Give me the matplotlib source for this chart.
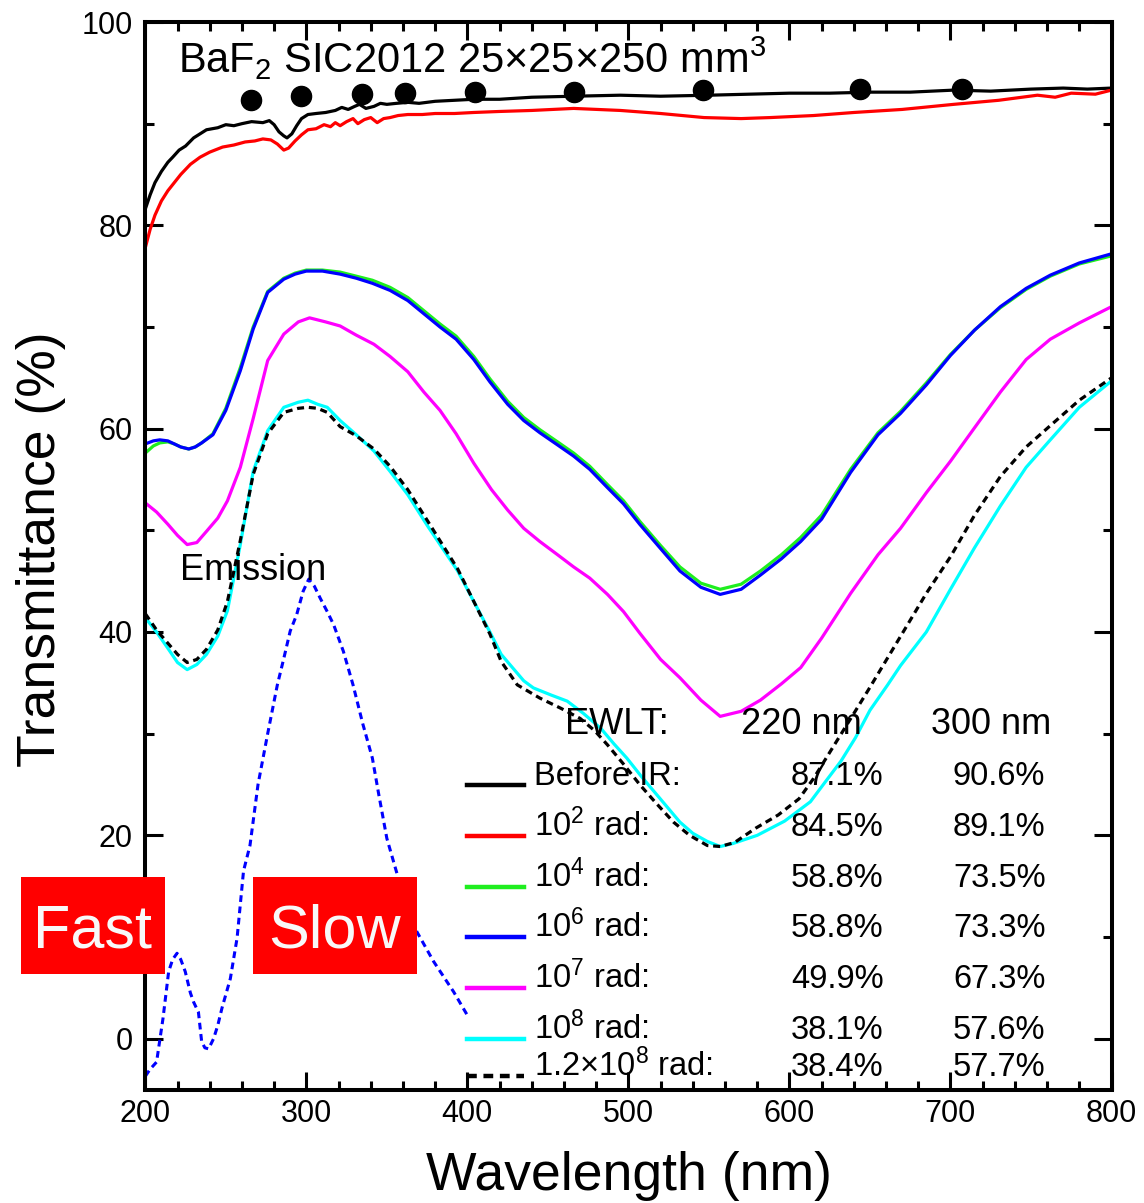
import matplotlib
matplotlib.use("Agg")
import matplotlib.pyplot as plt
from matplotlib.lines import Line2D
from matplotlib.patches import Rectangle
from matplotlib.ticker import MultipleLocator

plt.rcParams['font.family'] = ['Liberation Sans', 'DejaVu Sans']
plt.rcParams['mathtext.fontset'] = 'custom'
plt.rcParams['mathtext.rm'] = 'Liberation Sans'
plt.rcParams['mathtext.it'] = 'Liberation Sans:italic'

# ---- data ----
wl_before = [200, 203, 206, 210, 214, 217, 221, 225, 230, 238, 245, 250, 255, 260, 266, 273, 277, 280,
             283, 286, 288, 291, 294, 297, 301, 306, 312, 318, 322, 326, 330, 333, 337, 342, 346, 350,
             356, 363, 370, 380, 392, 404, 420, 440, 466, 495, 520, 550, 575, 600, 625, 650, 675, 702,
             725, 750, 770, 785, 800]
t_before = [81.6, 83.0, 84.2, 85.3, 86.2, 86.7, 87.4, 87.8, 88.6, 89.4, 89.6, 89.9, 89.8, 90.0, 90.2,
            90.1, 90.3, 89.9, 89.2, 88.8, 88.6, 89.0, 89.8, 90.5, 90.9, 91.0, 91.1, 91.3, 91.6, 91.4,
            91.7, 91.9, 91.5, 91.7, 92.0, 91.9, 92.0, 92.1, 92.0, 92.2, 92.3, 92.4, 92.4, 92.6, 92.7,
            92.8, 92.7, 92.8, 92.9, 93.0, 93.0, 93.1, 93.1, 93.3, 93.2, 93.4, 93.5, 93.4, 93.5]

wl_1e2 = [200, 203, 206, 210, 214, 217, 222, 228, 234, 240, 248, 255, 262, 268, 273, 278, 282, 286,
          289, 293, 297, 301, 306, 311, 315, 318, 321, 325, 329, 332, 336, 340, 344, 348, 352, 357,
          363, 372, 380, 392, 404, 420, 440, 466, 495, 520, 547, 570, 588, 615, 640, 670, 702, 730,
          754, 765, 775, 790, 800]
t_1e2 = [77.8, 79.6, 81.0, 82.4, 83.4, 84.0, 85.0, 86.0, 86.7, 87.2, 87.7, 87.9, 88.2, 88.3, 88.5,
         88.4, 88.0, 87.4, 87.6, 88.3, 88.9, 89.4, 89.5, 89.9, 89.7, 90.1, 89.8, 90.2, 90.5, 90.0,
         90.4, 90.6, 90.1, 90.5, 90.6, 90.8, 90.9, 90.9, 91.0, 91.0, 91.1, 91.2, 91.3, 91.5, 91.3,
         91.0, 90.6, 90.5, 90.6, 90.8, 91.1, 91.4, 91.9, 92.3, 92.8, 92.6, 93.0, 92.9, 93.3]

wl_mid = [200, 205, 209, 214, 218, 222, 227, 231, 235, 242, 250, 259, 267, 276, 286, 293, 300, 310,
          321, 331, 341, 352, 363, 373, 383, 393, 404, 414, 425, 435, 445, 456, 466, 476, 487, 497,
          507, 520, 532, 545, 557, 570, 582, 595, 607, 620, 638, 655, 669, 685, 700, 715, 731, 747,
          762, 780, 800]
t_1e6 = [58.5, 58.8, 58.9, 58.8, 58.5, 58.2, 58.0, 58.2, 58.6, 59.4, 61.8, 65.7, 69.8, 73.4, 74.7,
         75.2, 75.5, 75.5, 75.2, 74.8, 74.3, 73.6, 72.6, 71.3, 70.0, 68.8, 66.8, 64.6, 62.4, 60.8,
         59.6, 58.4, 57.3, 56.0, 54.2, 52.6, 50.6, 48.2, 46.0, 44.4, 43.7, 44.2, 45.6, 47.2, 48.9,
         51.1, 55.7, 59.4, 61.5, 64.3, 67.2, 69.7, 72.0, 73.8, 75.1, 76.3, 77.2]
t_1e4 = [57.6, 58.3, 58.6, 58.7, 58.5, 58.2, 58.0, 58.2, 58.6, 59.5, 62.0, 66.0, 70.0, 73.5, 74.8,
         75.3, 75.6, 75.6, 75.4, 75.0, 74.6, 73.9, 72.9, 71.6, 70.3, 69.1, 67.1, 64.9, 62.7, 61.1,
         59.9, 58.7, 57.6, 56.3, 54.5, 52.9, 50.9, 48.5, 46.4, 44.8, 44.2, 44.7, 46.0, 47.6, 49.3,
         51.5, 56.0, 59.6, 61.7, 64.5, 67.3, 69.7, 71.9, 73.7, 75.0, 76.2, 77.0]

wl_1e7 = [200, 207, 214, 220, 226, 232, 238, 245, 251, 259, 267, 276, 286, 295, 302, 312, 321, 331,
          342, 352, 363, 373, 383, 393, 404, 415, 425, 435, 445, 456, 466, 476, 487, 497, 507, 520,
          532, 545, 557, 570, 582, 595, 607, 620, 638, 655, 669, 685, 700, 715, 731, 747, 762, 780, 800]
t_1e7 = [52.7, 51.8, 50.6, 49.5, 48.6, 48.8, 49.9, 51.2, 52.9, 56.2, 61.0, 66.7, 69.3, 70.5, 70.9,
         70.5, 70.1, 69.2, 68.3, 67.1, 65.6, 63.6, 61.8, 59.5, 56.6, 54.0, 52.0, 50.2, 48.9, 47.6,
         46.4, 45.3, 43.7, 42.0, 39.9, 37.3, 35.5, 33.3, 31.7, 32.2, 33.3, 34.9, 36.5, 39.4, 43.8,
         47.6, 50.2, 53.7, 56.8, 60.1, 63.6, 66.8, 68.8, 70.4, 72.0]

wl_1e8 = [200, 207, 214, 220, 226, 232, 238, 245, 251, 259, 267, 276, 286, 295, 301, 307, 313, 321,
          331, 342, 352, 363, 375, 394, 414, 421, 435, 441, 452, 462, 472, 483, 491, 499, 508, 516,
          524, 532, 540, 549, 557, 565, 580, 597, 613, 622, 632, 641, 650, 661, 669, 685, 700, 715,
          731, 747, 762, 780, 800]
t_1e8 = [41.4, 40.0, 38.4, 37.0, 36.3, 36.8, 37.8, 39.6, 42.1, 48.6, 55.8, 59.8, 62.1, 62.6, 62.8,
         62.4, 62.1, 60.8, 59.4, 57.8, 55.8, 53.5, 50.5, 46.0, 40.0, 37.8, 35.2, 34.5, 33.8, 33.2,
         32.0, 30.5, 29.0, 27.6, 25.8, 24.3, 22.8, 21.3, 20.2, 19.4, 18.9, 19.2, 20.0, 21.4, 23.3,
         25.2, 27.3, 29.6, 32.3, 34.8, 36.7, 40.0, 44.2, 48.3, 52.4, 56.2, 58.9, 62.1, 64.7]

wl_12e8 = [200, 207, 214, 220, 226, 232, 238, 245, 251, 259, 267, 276, 286, 295, 301, 307, 313, 321,
           331, 342, 352, 363, 375, 394, 414, 421, 431, 445, 458, 470, 479, 487, 497, 507, 517, 528,
           538, 549, 557, 566, 579, 593, 606, 615, 624, 633, 642, 649, 660, 671, 685, 700, 715, 731,
           747, 762, 780, 800]
t_12e8 = [41.8, 40.2, 38.9, 37.8, 37.0, 37.3, 38.3, 40.2, 43.0, 49.0, 55.5, 59.5, 61.6, 62.0, 62.1,
          62.0, 61.6, 60.2, 59.3, 58.0, 56.3, 54.0, 51.0, 46.2, 39.8, 37.1, 34.8, 33.5, 32.5, 31.5,
          30.3, 28.9, 27.0, 25.0, 23.2, 21.3, 20.0, 19.0, 18.9, 19.3, 20.7, 22.0, 23.6, 25.6, 27.9,
          30.2, 32.5, 34.3, 37.2, 40.1, 43.8, 47.4, 51.5, 55.3, 58.2, 60.3, 62.8, 65.0]

wl_emis = [200, 203, 207, 211, 214.5, 217, 219.7, 222, 224.8, 228, 230, 233, 235, 237, 239.3, 242.4,
           245, 247.6, 252.8, 257, 261, 265, 270, 276, 282, 286, 290, 294, 298, 301.5, 305, 308.7,
           313, 317, 323, 329, 335, 341, 345, 350, 356, 362, 368.7, 379, 391.5, 400]
emis = [-3.7, -3.0, -2.3, 2.0, 6.6, 7.8, 8.4, 7.8, 6.6, 4.5, 3.6, 2.6, -0.3, -0.9, -1.0, 0.0, 1.3,
        3.0, 5.9, 9.9, 16.5, 19.0, 25.0, 30.0, 34.8, 37.4, 40.1, 41.7, 44.0, 45.2, 44.5, 43.3, 42.0,
        40.7, 38.1, 34.8, 31.0, 27.6, 24.0, 19.7, 16.4, 13.5, 10.5, 7.6, 4.6, 2.3]

wl_dots = [265.6, 296.9, 334.6, 361.5, 405, 466, 546.4, 643.9, 707.3]
t_dots = [92.3, 92.7, 92.9, 93.0, 93.1, 93.1, 93.3, 93.4, 93.4]

legend_labels = ['Before IR:', '10$^2$ rad:', '10$^4$ rad:', '10$^6$ rad:',
                 '10$^7$ rad:', '10$^8$ rad:', '1.2\u00d710$^8$ rad:']
ewlt_220 = ['87.1%', '84.5%', '58.8%', '58.8%', '49.9%', '38.1%', '38.4%']
ewlt_300 = ['90.6%', '89.1%', '73.5%', '73.3%', '67.3%', '57.6%', '57.7%']

colors = ['black', '#ff0000', '#1fee1f', '#0000ff', '#ff00ff', '#00ffff', 'black']
dash = (0, (2.2, 1.5))

W, H = 1144, 1203
fig = plt.figure(figsize=(W / 100, H / 100), dpi=100)
ax = fig.add_axes([145.3 / W, 1 - 1089.5 / H, (1111.5 - 145.3) / W, (1089.5 - 22) / H])


def fx(p):
    return p / W


def fy(p):
    return 1 - p / H


lw = 2.3
ax.plot(wl_emis, emis, color='#0000ff', lw=2.2, linestyle=dash)
ax.plot(wl_before, t_before, color=colors[0], lw=lw)
ax.plot(wl_1e2, t_1e2, color=colors[1], lw=lw)
ax.plot(wl_mid, t_1e4, color=colors[2], lw=lw)
ax.plot(wl_mid, t_1e6, color=colors[3], lw=lw)
ax.plot(wl_1e7, t_1e7, color=colors[4], lw=lw)
ax.plot(wl_1e8, t_1e8, color=colors[5], lw=lw)
ax.plot(wl_12e8, t_12e8, color=colors[6], lw=lw, linestyle=dash)
ax.plot(wl_dots, t_dots, 'o', color='black', markersize=14.5, linestyle='none')

ax.set_xlim(200, 800)
ax.set_ylim(-5, 100)
ax.xaxis.set_major_locator(MultipleLocator(100))
ax.xaxis.set_minor_locator(MultipleLocator(20))
ax.yaxis.set_major_locator(MultipleLocator(20))
ax.yaxis.set_minor_locator(MultipleLocator(10))
ax.tick_params(which='both', direction='in', top=True, right=True, width=2.2)
ax.tick_params(which='major', length=13, labelsize=22)
ax.tick_params(axis='x', which='major', pad=6.5)
ax.tick_params(axis='y', which='major', pad=9)
ax.tick_params(which='minor', length=6.5)
for s in ax.spines.values():
    s.set_linewidth(2.9)

fig.text(fx(629), fy(1190), 'Wavelength (nm)', fontsize=38.5, ha='center', va='baseline')
fig.text(fx(55), fy(549), 'Transmittance (%)', fontsize=38.5, rotation=90,
         ha='center', va='baseline', rotation_mode='anchor')

fig.text(fx(178), fy(73), 'BaF$_2$ SIC2012 25\u00d725\u00d7250 mm$^3$', fontsize=30, va='baseline')
fig.text(fx(180), fy(580), 'Emission', fontsize=26, va='baseline')

# EWLT table with legend keys
fig.text(fx(565), fy(734), 'EWLT:', fontsize=26, va='baseline')
fig.text(fx(741), fy(734), '220 nm', fontsize=26, va='baseline')
fig.text(fx(931), fy(734), '300 nm', fontsize=26, va='baseline')
row_y = [785, 836, 887, 937, 988, 1039, 1076]
for i, label in enumerate(legend_labels):
    y = row_y[i]
    ls = dash if i == 6 else '-'
    fig.add_artist(Line2D([fx(467), fx(524)], [fy(y), fy(y)], color=colors[i], lw=3.2,
                          linestyle=ls, transform=fig.transFigure))
    fig.text(fx(534), fy(y), label, fontsize=23.5, va='baseline')
    fig.text(fx(791), fy(y), ewlt_220[i], fontsize=23.5, va='baseline')
    fig.text(fx(953), fy(y), ewlt_300[i], fontsize=23.5, va='baseline')

# Fast / Slow boxes
for x0, x1, word in [(21, 165, 'Fast'), (253, 417, 'Slow')]:
    fig.add_artist(Rectangle((fx(x0), fy(974)), fx(x1 - x0), (974 - 877) / H,
                             facecolor='#ff0000', edgecolor='none', transform=fig.transFigure,
                             zorder=5))
    fig.text(fx((x0 + x1) / 2), fy(948), word, fontsize=44, color='#f8f8f8',
             ha='center', va='baseline', zorder=6)

fig.savefig('out.png', dpi=100)
